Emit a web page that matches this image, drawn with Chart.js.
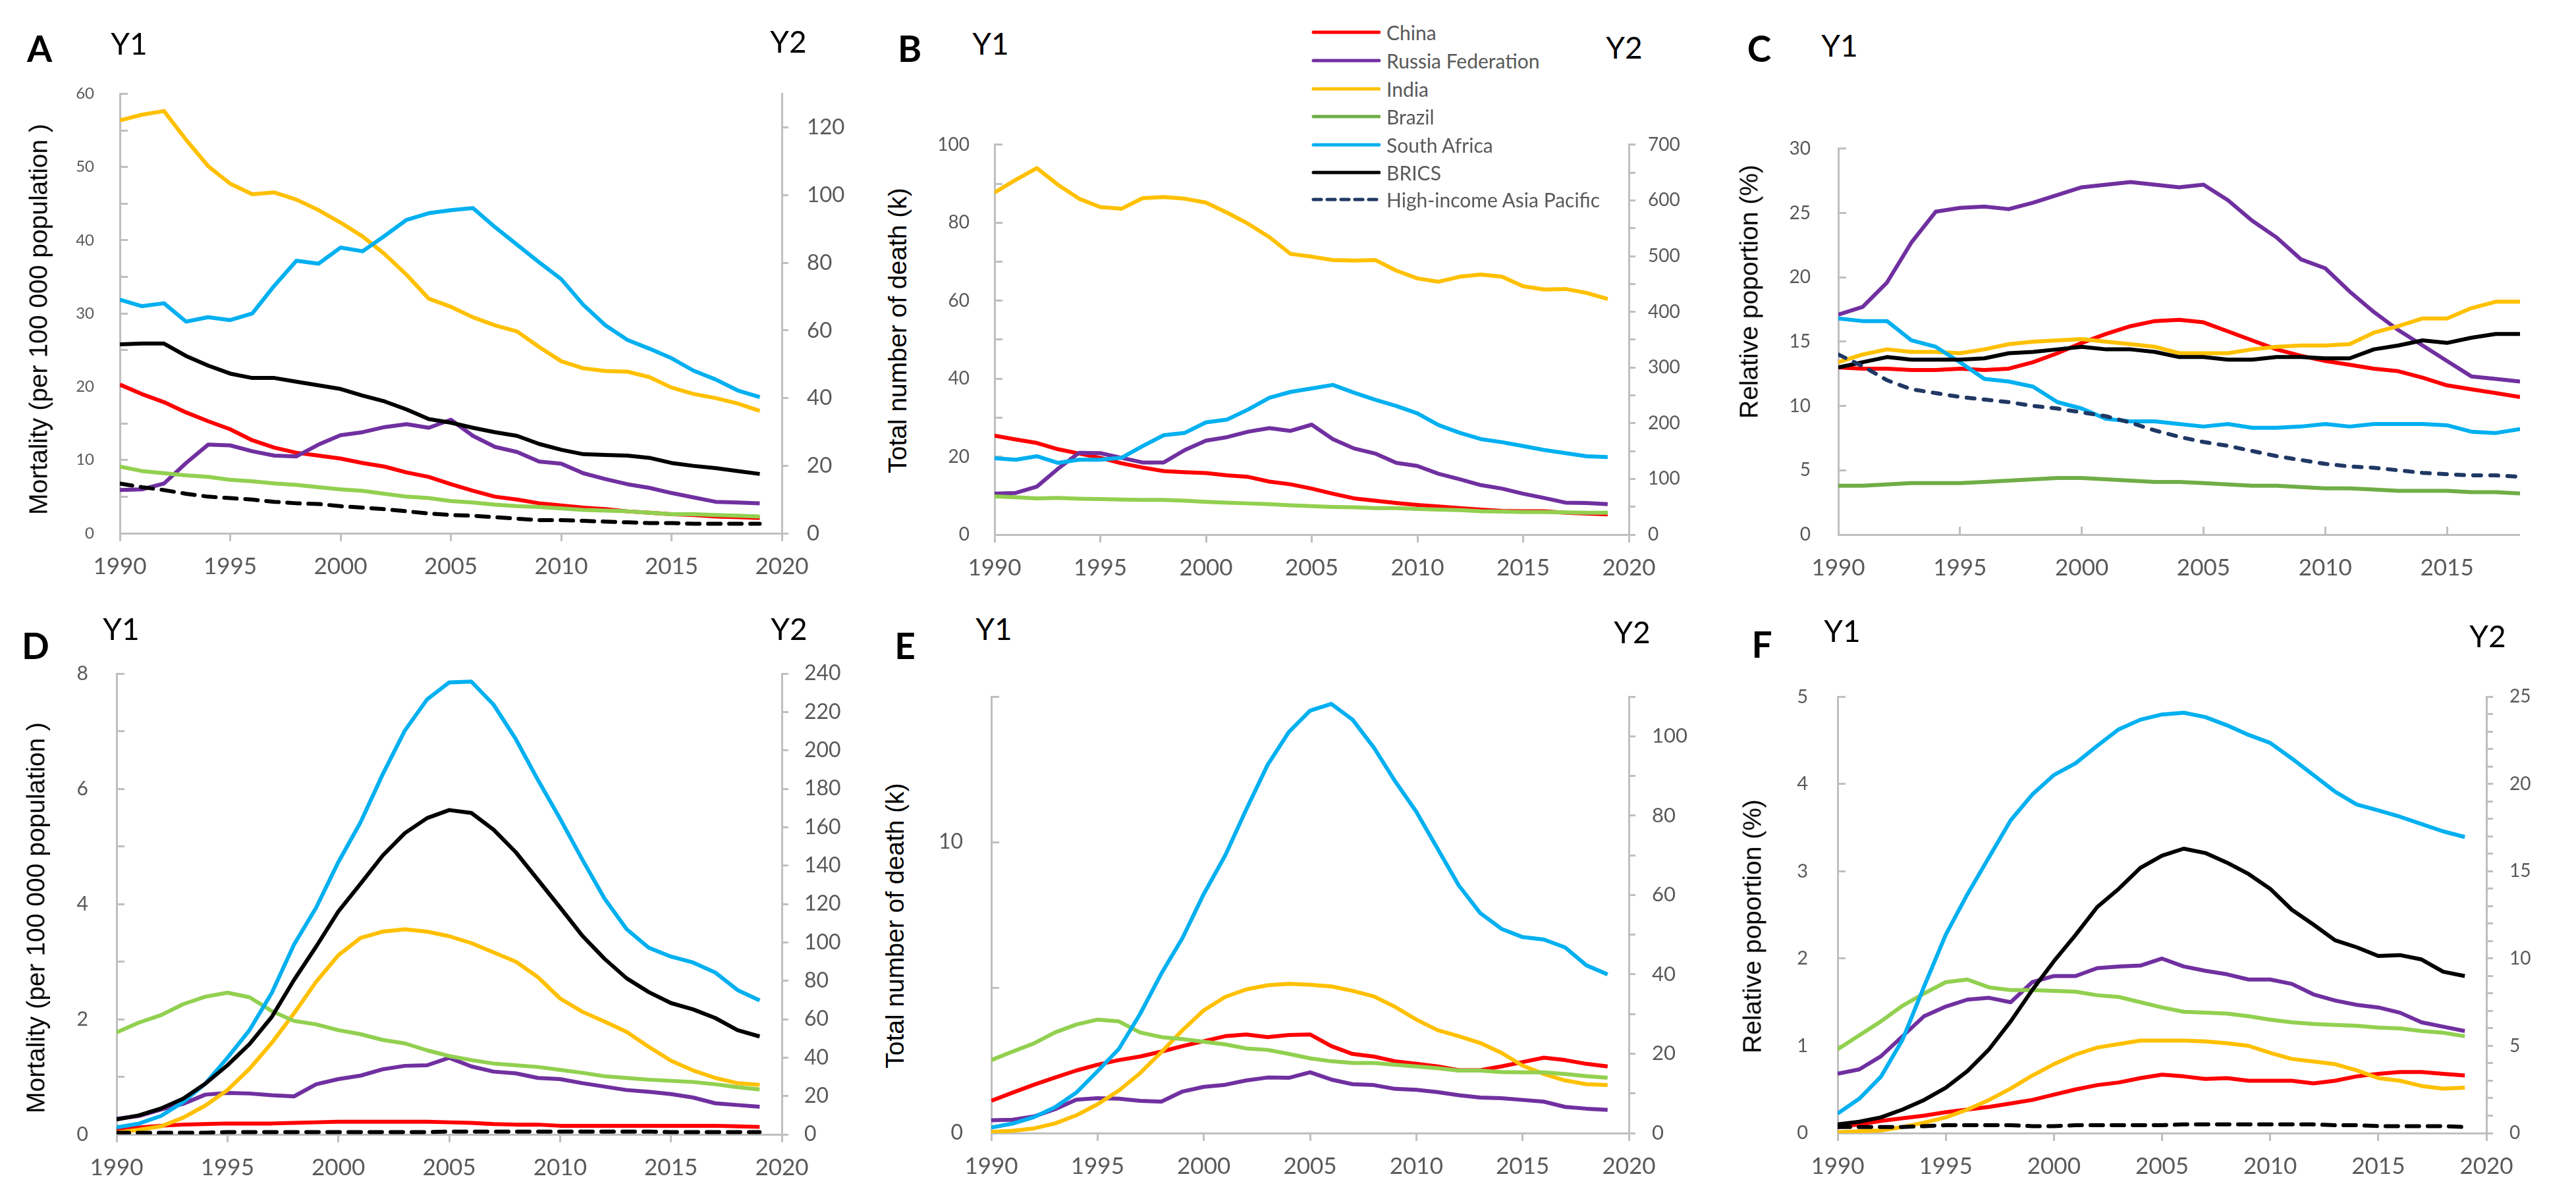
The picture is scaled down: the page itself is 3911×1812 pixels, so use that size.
<!DOCTYPE html>
<html>
<head>
<meta charset="utf-8">
<title>BRICS TB mortality</title>
<script src="https://cdn.jsdelivr.net/npm/chart.js@4.4.1/dist/chart.umd.min.js"></script>
<style>
    body { margin: 0; background: #fff; }
    #page { position: relative; width: 3911px; height: 1812px; overflow: hidden; background: #fff; font-family: Lato, sans-serif; }
    canvas { position: absolute; }
    .lbl { position: absolute; transform: translate(-50%, -50%); white-space: nowrap; line-height: 1; color: #000; }
    .letter { font-weight: bold; font-size: 55px; }
    .yax { font-size: 46px; }
    .ytitle { position: absolute; font-family: 'Liberation Sans', Arial, sans-serif; font-size: 39px; color: #000; white-space: nowrap; line-height: 1; transform: translate(-50%, -50%) rotate(-90deg); }
    .legtxt { position: absolute; font-size: 30px; color: #595959; white-space: nowrap; line-height: 1; transform: translateY(-50%); }
    .legline { position: absolute; }
</style>
</head>
<body>
<div id="page">
    <canvas id="chartA"></canvas>
    <canvas id="chartB"></canvas>
    <canvas id="chartC"></canvas>
    <canvas id="chartD"></canvas>
    <canvas id="chartE"></canvas>
    <canvas id="chartF"></canvas>
</div>
<script>
// ===== DATA =====
const years = [1990,1991,1992,1993,1994,1995,1996,1997,1998,1999,2000,2001,2002,2003,2004,2005,2006,2007,2008,2009,2010,2011,2012,2013,2014,2015,2016,2017,2018,2019];
const yearsC = [1990,1991,1992,1993,1994,1995,1996,1997,1998,1999,2000,2001,2002,2003,2004,2005,2006,2007,2008,2009,2010,2011,2012,2013,2014,2015,2016,2017,2018];
const seriesNames = ['China', 'Russia Federation', 'India', 'Brazil', 'South Africa', 'BRICS', 'High-income Asia Pacific'];

// A: mortality per 100 000 (India on Y2)
const A_china = [20.3,19.0,17.9,16.5,15.3,14.2,12.7,11.7,11.0,10.6,10.2,9.6,9.1,8.3,7.7,6.7,5.8,5.0,4.6,4.1,3.8,3.5,3.3,3.0,2.8,2.6,2.5,2.3,2.2,2.1];
const A_russia = [5.9,6.0,6.8,9.6,12.1,12.0,11.2,10.6,10.5,12.1,13.4,13.8,14.5,14.9,14.4,15.5,13.3,11.8,11.1,9.8,9.5,8.2,7.4,6.7,6.2,5.5,4.9,4.3,4.2,4.1];
const A_india = [122.1,123.8,124.9,116.4,108.6,103.4,100.3,100.8,98.7,95.6,91.9,87.8,82.6,76.4,69.4,67.0,63.9,61.5,59.7,55.1,50.9,48.8,48.0,47.8,46.2,43.1,41.2,40.0,38.4,36.2];
const A_brazil = [9.1,8.5,8.2,7.9,7.7,7.3,7.1,6.8,6.6,6.3,6.0,5.8,5.4,5.0,4.8,4.4,4.2,3.9,3.7,3.6,3.4,3.2,3.1,3.0,2.8,2.6,2.6,2.5,2.4,2.3];
const A_southAfrica = [31.9,31.0,31.4,28.9,29.5,29.1,30.0,33.8,37.2,36.8,39.0,38.5,40.6,42.8,43.7,44.1,44.4,41.8,39.4,37.0,34.7,31.2,28.4,26.4,25.2,23.9,22.2,21.0,19.5,18.6];
const A_brics = [25.8,25.9,25.9,24.2,22.9,21.8,21.2,21.2,20.7,20.2,19.7,18.8,18.0,16.9,15.6,15.1,14.4,13.8,13.3,12.2,11.4,10.8,10.7,10.6,10.3,9.6,9.2,8.9,8.5,8.1];
const A_hiap = [6.8,6.3,5.9,5.4,5.0,4.8,4.6,4.3,4.1,4.0,3.7,3.5,3.3,3.0,2.7,2.5,2.4,2.2,2.0,1.8,1.8,1.7,1.6,1.5,1.4,1.4,1.3,1.3,1.3,1.3];

// B: total deaths (k) (India on Y2)
const B_china = [25.4,24.4,23.5,21.9,20.8,19.7,18.3,17.2,16.3,16.0,15.8,15.2,14.8,13.6,12.9,11.8,10.5,9.3,8.7,8.1,7.6,7.2,6.8,6.4,6.1,6.0,6.0,5.6,5.4,5.2];
const B_russia = [10.5,10.7,12.3,16.9,21.0,20.9,19.7,18.5,18.5,21.7,24.1,25.0,26.4,27.3,26.6,28.2,24.5,22.1,20.8,18.4,17.6,15.6,14.2,12.7,11.8,10.5,9.4,8.2,8.1,7.8];
const B_india = [614,637,658,628,603,588,585,604,606,603,596,578,558,534,504,499,493,492,493,474,460,454,463,467,463,446,440,441,434,423];
const B_brazil = [9.8,9.6,9.3,9.4,9.2,9.1,9.0,8.9,8.9,8.7,8.4,8.2,8.0,7.8,7.5,7.3,7.1,7.0,6.8,6.8,6.6,6.4,6.3,6.0,5.9,5.8,5.8,5.7,5.6,5.6];
const B_southAfrica = [19.6,19.2,20.1,18.4,19.2,19.2,19.7,22.7,25.5,26.1,28.8,29.5,32.1,35.1,36.6,37.5,38.4,36.4,34.6,33.0,31.1,28.1,26.1,24.5,23.7,22.7,21.7,20.9,20.1,19.9];

// C: relative proportion (%)
const C_china = [13.0,12.9,12.9,12.8,12.8,12.9,12.8,12.9,13.4,14.1,14.9,15.6,16.2,16.6,16.7,16.5,15.8,15.1,14.4,13.9,13.5,13.2,12.9,12.7,12.2,11.6,11.3,11.0,10.7];
const C_russia = [17.1,17.7,19.6,22.7,25.1,25.4,25.5,25.3,25.8,26.4,27.0,27.2,27.4,27.2,27.0,27.2,26.0,24.4,23.1,21.4,20.7,18.9,17.3,15.9,14.7,13.5,12.3,12.1,11.9];
const C_india = [13.4,14.0,14.4,14.2,14.2,14.1,14.4,14.8,15.0,15.1,15.2,15.0,14.8,14.6,14.1,14.1,14.1,14.4,14.6,14.7,14.7,14.8,15.7,16.2,16.8,16.8,17.6,18.1,18.1];
const C_brazil = [3.8,3.8,3.9,4.0,4.0,4.0,4.1,4.2,4.3,4.4,4.4,4.3,4.2,4.1,4.1,4.0,3.9,3.8,3.8,3.7,3.6,3.6,3.5,3.4,3.4,3.4,3.3,3.3,3.2];
const C_southAfrica = [16.8,16.6,16.6,15.1,14.6,13.4,12.1,11.9,11.5,10.3,9.8,9.0,8.8,8.8,8.6,8.4,8.6,8.3,8.3,8.4,8.6,8.4,8.6,8.6,8.6,8.5,8.0,7.9,8.2];
const C_brics = [13.0,13.4,13.8,13.6,13.6,13.6,13.7,14.1,14.2,14.4,14.6,14.4,14.4,14.2,13.8,13.8,13.6,13.6,13.8,13.8,13.7,13.7,14.4,14.7,15.1,14.9,15.3,15.6,15.6];
const C_hiap = [14.0,13.1,12.0,11.3,11.0,10.7,10.5,10.3,10.0,9.8,9.5,9.2,8.7,8.1,7.6,7.2,6.9,6.5,6.1,5.8,5.5,5.3,5.2,5.0,4.8,4.7,4.6,4.6,4.5];

// D: mortality per 100 000 (South Africa on Y2)
const D_china = [0.08,0.12,0.15,0.17,0.18,0.19,0.19,0.19,0.20,0.21,0.22,0.22,0.22,0.22,0.22,0.21,0.20,0.18,0.17,0.17,0.15,0.15,0.15,0.15,0.15,0.15,0.15,0.15,0.14,0.13];
const D_russia = [0.27,0.32,0.43,0.53,0.69,0.72,0.71,0.68,0.66,0.87,0.96,1.02,1.13,1.19,1.20,1.33,1.18,1.09,1.06,0.98,0.96,0.89,0.83,0.77,0.74,0.70,0.64,0.54,0.51,0.48];
const D_india = [0.03,0.08,0.14,0.29,0.50,0.77,1.14,1.59,2.10,2.65,3.11,3.41,3.52,3.56,3.52,3.44,3.32,3.16,3.00,2.73,2.36,2.13,1.96,1.78,1.52,1.28,1.11,0.98,0.89,0.86];
const D_brazil = [1.77,1.94,2.07,2.26,2.39,2.46,2.38,2.14,1.97,1.91,1.81,1.74,1.64,1.58,1.46,1.36,1.29,1.23,1.20,1.17,1.12,1.07,1.01,0.98,0.95,0.93,0.91,0.87,0.82,0.78];
const D_southAfrica = [3.7,5.6,9.6,16.8,26.4,39.9,54.4,73.7,98.8,118.1,141.8,162.5,187.5,210.3,226.5,235.4,235.8,223.8,205.9,184.6,164.4,143.2,122.9,106.9,97.2,92.6,89.5,84.3,75.2,69.8];
const D_brics = [0.26,0.33,0.45,0.62,0.88,1.20,1.57,2.04,2.68,3.26,3.87,4.35,4.84,5.23,5.49,5.63,5.58,5.29,4.90,4.42,3.94,3.45,3.05,2.71,2.47,2.28,2.17,2.02,1.81,1.70];
const D_hiap = [0.03,0.03,0.03,0.03,0.03,0.04,0.04,0.04,0.04,0.04,0.04,0.04,0.04,0.04,0.04,0.05,0.05,0.05,0.05,0.05,0.05,0.05,0.05,0.05,0.05,0.04,0.04,0.04,0.04,0.04];

// E: total deaths (k) (South Africa on Y2)
const E_china = [1.11,1.39,1.66,1.91,2.15,2.35,2.51,2.63,2.80,2.99,3.16,3.33,3.39,3.30,3.37,3.39,2.99,2.72,2.63,2.47,2.38,2.29,2.16,2.16,2.29,2.44,2.59,2.51,2.38,2.29];
const E_russia = [0.44,0.46,0.57,0.82,1.15,1.20,1.18,1.11,1.08,1.43,1.59,1.66,1.81,1.91,1.90,2.09,1.84,1.68,1.65,1.52,1.49,1.41,1.30,1.22,1.20,1.14,1.08,0.90,0.84,0.80];
const E_india = [0.04,0.08,0.16,0.33,0.61,0.99,1.46,2.06,2.78,3.54,4.22,4.68,4.94,5.08,5.13,5.10,5.04,4.89,4.70,4.34,3.90,3.54,3.33,3.10,2.76,2.32,2.03,1.81,1.68,1.65];
const E_brazil = [2.51,2.80,3.08,3.46,3.73,3.90,3.84,3.46,3.30,3.23,3.14,3.05,2.91,2.86,2.72,2.57,2.47,2.41,2.41,2.35,2.29,2.23,2.15,2.15,2.10,2.09,2.09,2.03,1.96,1.90];
const E_southAfrica = [1.4,2.4,4.0,6.5,10.2,15.6,21.2,30.0,40.2,49.2,60.3,69.9,81.6,92.8,101.1,106.5,108.2,104.2,97.2,88.7,81.0,71.7,62.4,55.5,51.5,49.4,48.8,46.8,42.3,40.0];

// F: relative proportion (%) (South Africa on Y2)
const F_china = [0.07,0.10,0.14,0.17,0.20,0.24,0.27,0.30,0.34,0.38,0.44,0.50,0.55,0.58,0.63,0.67,0.65,0.62,0.63,0.60,0.60,0.60,0.57,0.60,0.65,0.68,0.70,0.70,0.68,0.66];
const F_russia = [0.68,0.73,0.88,1.11,1.34,1.45,1.53,1.55,1.50,1.73,1.80,1.80,1.89,1.91,1.92,2.00,1.91,1.86,1.82,1.76,1.76,1.71,1.59,1.52,1.47,1.44,1.38,1.27,1.22,1.17];
const F_india = [0.01,0.02,0.03,0.07,0.12,0.18,0.27,0.38,0.51,0.66,0.79,0.90,0.98,1.02,1.06,1.06,1.06,1.05,1.03,1.00,0.92,0.85,0.82,0.79,0.72,0.63,0.60,0.54,0.51,0.52];
const F_brazil = [0.96,1.12,1.28,1.46,1.60,1.73,1.76,1.67,1.64,1.64,1.63,1.62,1.58,1.56,1.50,1.44,1.39,1.38,1.37,1.34,1.30,1.27,1.25,1.24,1.23,1.21,1.20,1.17,1.15,1.11];
const F_southAfrica = [1.12,1.97,3.23,5.35,8.41,11.37,13.69,15.81,17.92,19.40,20.52,21.19,22.19,23.14,23.69,23.99,24.09,23.84,23.37,22.82,22.36,21.47,20.52,19.57,18.83,18.49,18.13,17.71,17.29,16.97];
const F_brics = [0.10,0.13,0.18,0.27,0.38,0.52,0.71,0.96,1.28,1.64,1.97,2.27,2.59,2.80,3.04,3.18,3.26,3.21,3.10,2.97,2.80,2.56,2.39,2.21,2.13,2.03,2.04,1.99,1.85,1.80];
const F_hiap = [0.07,0.07,0.07,0.07,0.08,0.09,0.09,0.09,0.09,0.08,0.08,0.09,0.09,0.09,0.09,0.09,0.10,0.10,0.10,0.10,0.10,0.10,0.10,0.09,0.09,0.08,0.08,0.08,0.08,0.07];

// ===== WARNA =====
const RED = '#FF0000', PURPLE = '#7030A0', GOLD = '#FFC000', GREEN_LT = '#92D050', GREEN = '#70AD47';
const BLUE = '#00B0F0', BLACK = '#000000', NAVY = '#203864';
const AXIS = '#BFBFBF', TXT = '#595959';

// ===== HELPER =====
function line(label, xs, ys, color, axis, dash) {
    return {
        label: label,
        data: ys.map((v, i) => ({ x: xs[i], y: v })),
        borderColor: color,
        borderWidth: 6,
        borderDash: dash || [],
        borderCapStyle: dash ? 'round' : 'butt',
        borderJoinStyle: 'round',
        pointRadius: 0,
        tension: 0,
        fill: false,
        yAxisID: axis || 'y'
    };
}

function labelEvery(step) {
    return function(v) {
        const k = Math.round(v * 1000), s = Math.round(step * 1000);
        return k % s === 0 ? String(v) : '';
    };
}

function makePanel(id, area, cfg) {
    const canvas = document.getElementById(id);
    const left = area.l - 120, top = area.t - 30;
    const right = area.r + (cfg.y2 ? 120 : 70), bottom = area.b + 90;
    canvas.style.left = left + 'px';
    canvas.style.top = top + 'px';
    canvas.width = right - left;
    canvas.height = bottom - top;

    // urutan gambar: seri pertama paling bawah
    cfg.datasets.forEach((d, i) => { d.order = cfg.datasets.length - i; });

    const scales = {
        x: {
            type: 'linear', position: 'bottom', min: 1990, max: cfg.xMax,
            afterFit: s => { s.height = bottom - area.b; },
            border: { color: AXIS, width: 3 },
            grid: { drawOnChartArea: false, color: AXIS, lineWidth: 3, tickLength: cfg.xIn ? -12 : 12 },
            ticks: {
                stepSize: 5, autoSkip: false, maxRotation: 0, includeBounds: false,
                color: TXT, font: { family: 'Lato', size: 35 },
                padding: cfg.xIn ? 42 : 18,
                callback: v => String(v)
            }
        },
        y: {
            position: 'left', min: 0, max: cfg.y1.max,
            afterFit: s => { s.width = area.l - left; },
            border: { color: AXIS, width: 3 },
            grid: { drawOnChartArea: false, color: AXIS, lineWidth: 3, tickLength: -12 },
            ticks: {
                stepSize: cfg.y1.step, autoSkip: false, includeBounds: false,
                color: TXT, font: { family: 'Lato', size: cfg.y1.font },
                padding: cfg.y1.gap + 12,
                callback: labelEvery(cfg.y1.label)
            }
        }
    };
    if (cfg.y2) {
        scales.y2 = {
            position: 'right', min: 0, max: cfg.y2.max,
            afterFit: s => { s.width = right - area.r; },
            border: { color: AXIS, width: 3 },
            grid: { drawOnChartArea: false, color: AXIS, lineWidth: 3, tickLength: 10 },
            ticks: {
                stepSize: cfg.y2.step, autoSkip: false, includeBounds: false,
                color: TXT, font: { family: 'Lato', size: cfg.y2.font },
                padding: cfg.y2.gap - 10,
                callback: labelEvery(cfg.y2.label)
            }
        };
    }

    return new Chart(canvas.getContext('2d'), {
        type: 'line',
        data: { datasets: cfg.datasets },
        options: {
            responsive: false,
            animation: false,
            devicePixelRatio: 1,
            layout: { padding: { top: area.t - top, left: 0, right: 0, bottom: 0 } },
            plugins: { legend: { display: false }, tooltip: { enabled: false } },
            scales: scales
        }
    });
}

function addText(cls, text, x, y) {
    const el = document.createElement('div');
    el.className = cls;
    el.textContent = text;
    el.style.left = x + 'px';
    el.style.top = y + 'px';
    document.getElementById('page').appendChild(el);
}

// ===== PANEL =====
const dashHiap = [19, 13];

makePanel('chartA', { l: 182, t: 107, r: 1187, b: 810 }, {
    xMax: 2020,
    y1: { max: 60, step: 5, label: 10, font: 24, gap: 39 },
    y2: { max: 130, step: 20, label: 20, font: 33, gap: 38 },
    datasets: [
        line(seriesNames[0], years, A_china, RED),
        line(seriesNames[1], years, A_russia, PURPLE),
        line(seriesNames[2], years, A_india, GOLD, 'y2'),
        line(seriesNames[3], years, A_brazil, GREEN_LT),
        line(seriesNames[4], years, A_southAfrica, BLUE),
        line(seriesNames[5], years, A_brics, BLACK),
        line(seriesNames[6], years, A_hiap, BLACK, 'y', dashHiap)
    ]
});

makePanel('chartB', { l: 1510, t: 183, r: 2473, b: 812 }, {
    xMax: 2020,
    y1: { max: 100, step: 10, label: 20, font: 28, gap: 38 },
    y2: { max: 700, step: 50, label: 100, font: 28, gap: 29 },
    datasets: [
        line(seriesNames[0], years, B_china, RED),
        line(seriesNames[1], years, B_russia, PURPLE),
        line(seriesNames[2], years, B_india, GOLD, 'y2'),
        line(seriesNames[3], years, B_brazil, GREEN_LT),
        line(seriesNames[4], years, B_southAfrica, BLUE)
    ]
});

makePanel('chartC', { l: 2791, t: 185, r: 3756, b: 812 }, {
    xMax: 2018, xIn: true,
    y1: { max: 30, step: 5, label: 5, font: 28, gap: 42 },
    datasets: [
        line(seriesNames[0], yearsC, C_china, RED),
        line(seriesNames[1], yearsC, C_russia, PURPLE),
        line(seriesNames[2], yearsC, C_india, GOLD),
        line(seriesNames[3], yearsC, C_brazil, GREEN),
        line(seriesNames[4], yearsC, C_southAfrica, BLUE),
        line(seriesNames[5], yearsC, C_brics, BLACK),
        line(seriesNames[6], yearsC, C_hiap, NAVY, 'y', [12, 14])
    ]
});

makePanel('chartD', { l: 177, t: 980, r: 1187, b: 1723 }, {
    xMax: 2020,
    y1: { max: 8, step: 1, label: 2, font: 30, gap: 43 },
    y2: { max: 240, step: 20, label: 20, font: 32, gap: 34 },
    datasets: [
        line(seriesNames[0], years, D_china, RED),
        line(seriesNames[1], years, D_russia, PURPLE),
        line(seriesNames[2], years, D_india, GOLD),
        line(seriesNames[3], years, D_brazil, GREEN_LT),
        line(seriesNames[4], years, D_southAfrica, BLUE, 'y2'),
        line(seriesNames[5], years, D_brics, BLACK),
        line(seriesNames[6], years, D_hiap, BLACK, 'y', dashHiap)
    ]
});

makePanel('chartE', { l: 1505, t: 1014, r: 2473, b: 1721 }, {
    xMax: 2020,
    y1: { max: 15, step: 5, label: 10, font: 32, gap: 43 },
    y2: { max: 110, step: 10, label: 20, font: 31, gap: 35 },
    datasets: [
        line(seriesNames[0], years, E_china, RED),
        line(seriesNames[1], years, E_russia, PURPLE),
        line(seriesNames[2], years, E_india, GOLD),
        line(seriesNames[3], years, E_brazil, GREEN_LT),
        line(seriesNames[4], years, E_southAfrica, BLUE, 'y2')
    ]
});

makePanel('chartF', { l: 2790, t: 1014, r: 3775, b: 1721 }, {
    xMax: 2020,
    y1: { max: 5, step: 1, label: 1, font: 29, gap: 45 },
    y2: { max: 25, step: 1, label: 5, font: 28, gap: 35 },
    datasets: [
        line(seriesNames[0], years, F_china, RED),
        line(seriesNames[1], years, F_russia, PURPLE),
        line(seriesNames[2], years, F_india, GOLD),
        line(seriesNames[3], years, F_brazil, GREEN_LT),
        line(seriesNames[4], years, F_southAfrica, BLUE, 'y2'),
        line(seriesNames[5], years, F_brics, BLACK),
        line(seriesNames[6], years, F_hiap, BLACK, 'y', dashHiap)
    ]
});

// ===== TEKS PANEL =====
[['A', 60, 73], ['B', 1381, 73], ['C', 2671, 73], ['D', 54, 980], ['E', 1374, 980], ['F', 2675, 978]]
    .forEach(t => addText('lbl letter', t[0], t[1], t[2]));

[['Y1', 196, 66], ['Y2', 1197, 63], ['Y1', 1504, 66], ['Y2', 2466, 72], ['Y1', 2793, 69],
 ['Y1', 184, 955], ['Y2', 1198, 955], ['Y1', 1509, 955], ['Y2', 2478, 960], ['Y1', 2797, 958], ['Y2', 3777, 966]]
    .forEach(t => addText('lbl yax', t[0], t[1], t[2]));

[['Mortality (per 100 000 population )', 58, 485], ['Total number of death (k)', 1362, 502], ['Relative poportion (%)', 2655, 443],
 ['Mortality (per 100 000 population )', 54, 1394], ['Total number of death (k)', 1358, 1406], ['Relative poportion (%)', 2660, 1407]]
    .forEach(t => addText('ytitle', t[0], t[1], t[2]));

// ===== LEGENDA =====
const legendColors = [RED, PURPLE, GOLD, GREEN, BLUE, BLACK, NAVY];
const legendRows = [49, 92, 135, 177, 220, 262, 303];
const page = document.getElementById('page');
seriesNames.forEach((name, i) => {
    const svgNS = 'http://www.w3.org/2000/svg';
    const svg = document.createElementNS(svgNS, 'svg');
    svg.setAttribute('class', 'legline');
    svg.setAttribute('width', '106');
    svg.setAttribute('height', '12');
    svg.style.left = '1990px';
    svg.style.top = (legendRows[i] - 6) + 'px';
    const ln = document.createElementNS(svgNS, 'line');
    ln.setAttribute('x1', '4'); ln.setAttribute('x2', '104');
    ln.setAttribute('y1', '6'); ln.setAttribute('y2', '6');
    ln.setAttribute('stroke', legendColors[i]);
    ln.setAttribute('stroke-width', '5');
    ln.setAttribute('stroke-linecap', 'round');
    if (i === 6) ln.setAttribute('stroke-dasharray', '12 9');
    svg.appendChild(ln);
    page.appendChild(svg);

    const txt = document.createElement('div');
    txt.className = 'legtxt';
    txt.textContent = name;
    txt.style.left = '2105px';
    txt.style.top = legendRows[i] + 'px';
    page.appendChild(txt);
});
</script>
</body>
</html>
